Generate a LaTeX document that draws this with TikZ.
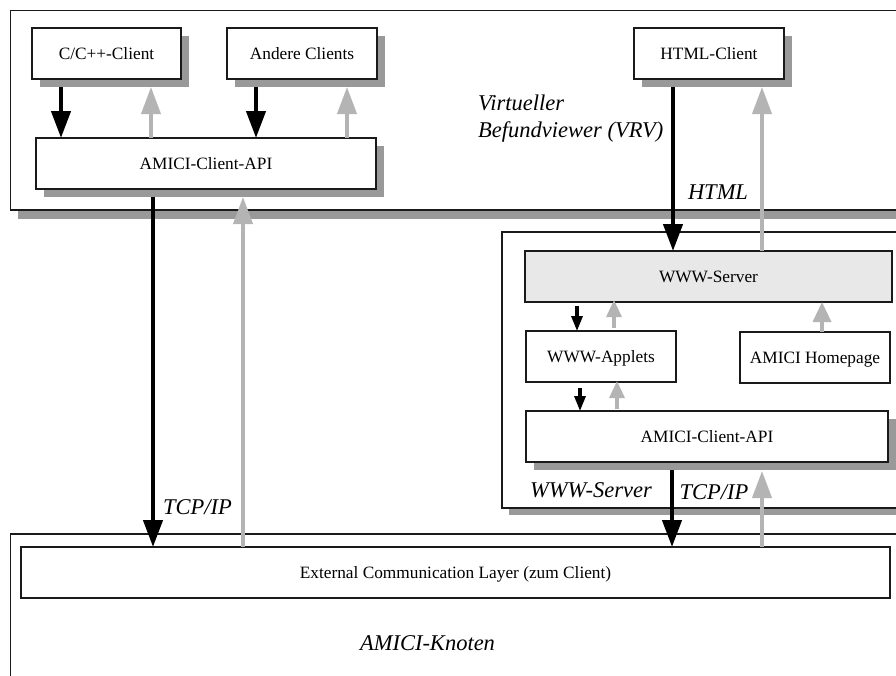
\documentclass[tikz,border=0pt]{standalone}
\usepackage{fontspec}
\setmainfont{Liberation Serif}
\usetikzlibrary{arrows.meta,shadows}
\definecolor{arrowgray}{HTML}{B4B4B4}
\definecolor{shadowgray}{HTML}{999999}
\definecolor{serverfill}{HTML}{E8E8E8}
\definecolor{edge}{HTML}{1A1A1A}
\tikzset{
  x=1pt, y=-1pt,
  boxbase/.style={draw=edge, line width=1.2pt, fill=white, inner sep=0pt, outer sep=0pt,
    font=\fontsize{17.3}{20}\selectfont, text height=11.5pt, text depth=0pt},
  plainbox/.style={boxbase},
  shadowbox/.style={boxbase, drop shadow={shadow xshift=8pt, shadow yshift=-8pt, fill=shadowgray, opacity=1}},
  framebox/.style={draw=edge, line width=1.2pt, fill=white, inner sep=0pt, outer sep=0pt},
  frameshadow/.style={framebox, drop shadow={shadow xshift=7pt, shadow yshift=-8.5pt, fill=shadowgray, opacity=1}},
  lbl/.style={inner sep=0pt, font=\fontsize{22.5}{27}\selectfont\itshape, text height=15pt, text depth=0pt},
  bigblk/.style={draw=black, line width=4.3pt, -{Triangle[length=27pt,width=19pt]}},
  biggray/.style={draw=arrowgray, line width=3.8pt, -{Triangle[length=27pt,width=19pt]}},
  midgray/.style={draw=arrowgray, line width=3.4pt, -{Triangle[length=20pt,width=18pt]}},
  smallblk/.style={draw=black, line width=3.2pt, -{Triangle[length=15pt,width=11pt]}},
  smallgray/.style={draw=arrowgray, line width=3.2pt, -{Triangle[length=17pt,width=15pt]}},
}
\begin{document}
\begin{tikzpicture}
\useasboundingbox (0,0) rectangle (896,675);
\clip (0,0) rectangle (896,675);

% frames
\node[frameshadow, minimum width=949.5pt, minimum height=199.5pt] (vrv) at (485.25,110.25) {};
\node[framebox, drop shadow={shadow xshift=7pt, shadow yshift=-7pt, fill=shadowgray, opacity=1},
      minimum width=458pt, minimum height=276pt] (wwwframe) at (731,370) {};
\node[framebox, minimum width=949.5pt, minimum height=186pt] (knoten) at (485.25,627) {};

% boxes
\node[shadowbox, minimum width=149pt, minimum height=51pt] (cpp) at (106.5,53.5) {C/C++-Client};
\node[shadowbox, minimum width=150pt, minimum height=51pt] (andere) at (302,53.5) {Andere Clients};
\node[shadowbox, minimum width=150pt, minimum height=51pt] (html) at (709,53.5) {HTML-Client};
\node[shadowbox, minimum width=340pt, minimum height=51pt] (api1) at (206,163.5) {AMICI-Client-API};
\node[plainbox, fill=serverfill, minimum width=367pt, minimum height=51pt] (www) at (708.5,276.5) {WWW-Server};
\node[plainbox, minimum width=150pt, minimum height=51pt] (applets) at (601,356.5) {WWW-Applets};
\node[plainbox, minimum width=150pt, minimum height=51pt] (homepage) at (815,357.5) {AMICI Homepage};
\node[shadowbox, minimum width=362pt, minimum height=51pt] (api2) at (707,436.5) {AMICI-Client-API};
\node[plainbox, minimum width=869pt, minimum height=51pt] (ecl) at (455.5,572.5) {External Communication Layer (zum Client)};

% arrows: clients <-> API
\draw[bigblk] ([shift={(-45.5,8)}]cpp.south) -- ([xshift=-45.5pt]cpp.south |- api1.north);
\draw[biggray] ([xshift=44.5pt]cpp.south |- api1.north) -- ([shift={(44.5,8)}]cpp.south);
\draw[bigblk] ([shift={(-46,8)}]andere.south) -- ([xshift=-46pt]andere.south |- api1.north);
\draw[biggray] ([xshift=45pt]andere.south |- api1.north) -- ([shift={(45,8)}]andere.south);

% HTML client <-> WWW server
\draw[bigblk] ([shift={(-36,8)}]html.south) -- ([xshift=-36pt]html.south |- www.north);
\draw[biggray] ([xshift=53pt]html.south |- www.north) -- ([shift={(53,8)}]html.south);

% API <-> ECL
\draw[bigblk] ([shift={(-53,8)}]api1.south) -- ([xshift=-53pt]api1.south |- ecl.north);
\draw[biggray] ([xshift=37pt]api1.south |- ecl.north) -- ([shift={(37,8)}]api1.south);

% inside WWW server
\draw[smallblk] ([shift={(-24,4)}]applets.north |- www.south) -- ([xshift=-24pt]applets.north);
\draw[smallgray] ([shift={(13,-3)}]applets.north) -- ([shift={(13,-2)}]applets.north |- www.south);
\draw[smallblk] ([shift={(-21,6)}]applets.south) -- ([xshift=-21pt]applets.south |- api2.north);
\draw[smallgray] ([shift={(16,-2)}]applets.south |- api2.north) -- ([shift={(16,-1)}]applets.south);
\draw[midgray] ([xshift=7pt]homepage.north) -- ([xshift=7pt]homepage.north |- www.south);

% API2 <-> ECL
\draw[bigblk] ([shift={(-35,8)}]api2.south) -- ([xshift=-35pt]api2.south |- ecl.north);
\draw[biggray] ([xshift=55pt]api2.south |- ecl.north) -- ([shift={(55,9)}]api2.south);

% labels
\node[inner sep=0pt, font=\fontsize{22.5}{27}\selectfont\itshape, align=left, anchor=north west]
  (vrvlabel) at (478,95) {Virtueller\\Befundviewer (VRV)};
\node[lbl] (htmllabel) at (718,192) {HTML};
\node[lbl] (tcp1) at (197.5,507) {TCP/IP};
\node[lbl] (wwwlabel) at (591,490) {WWW-Server};
\node[lbl] (tcp2) at (714,492) {TCP/IP};
\node[lbl] (knotenlabel) at (427.5,643) {AMICI-Knoten};
\end{tikzpicture}
\end{document}
